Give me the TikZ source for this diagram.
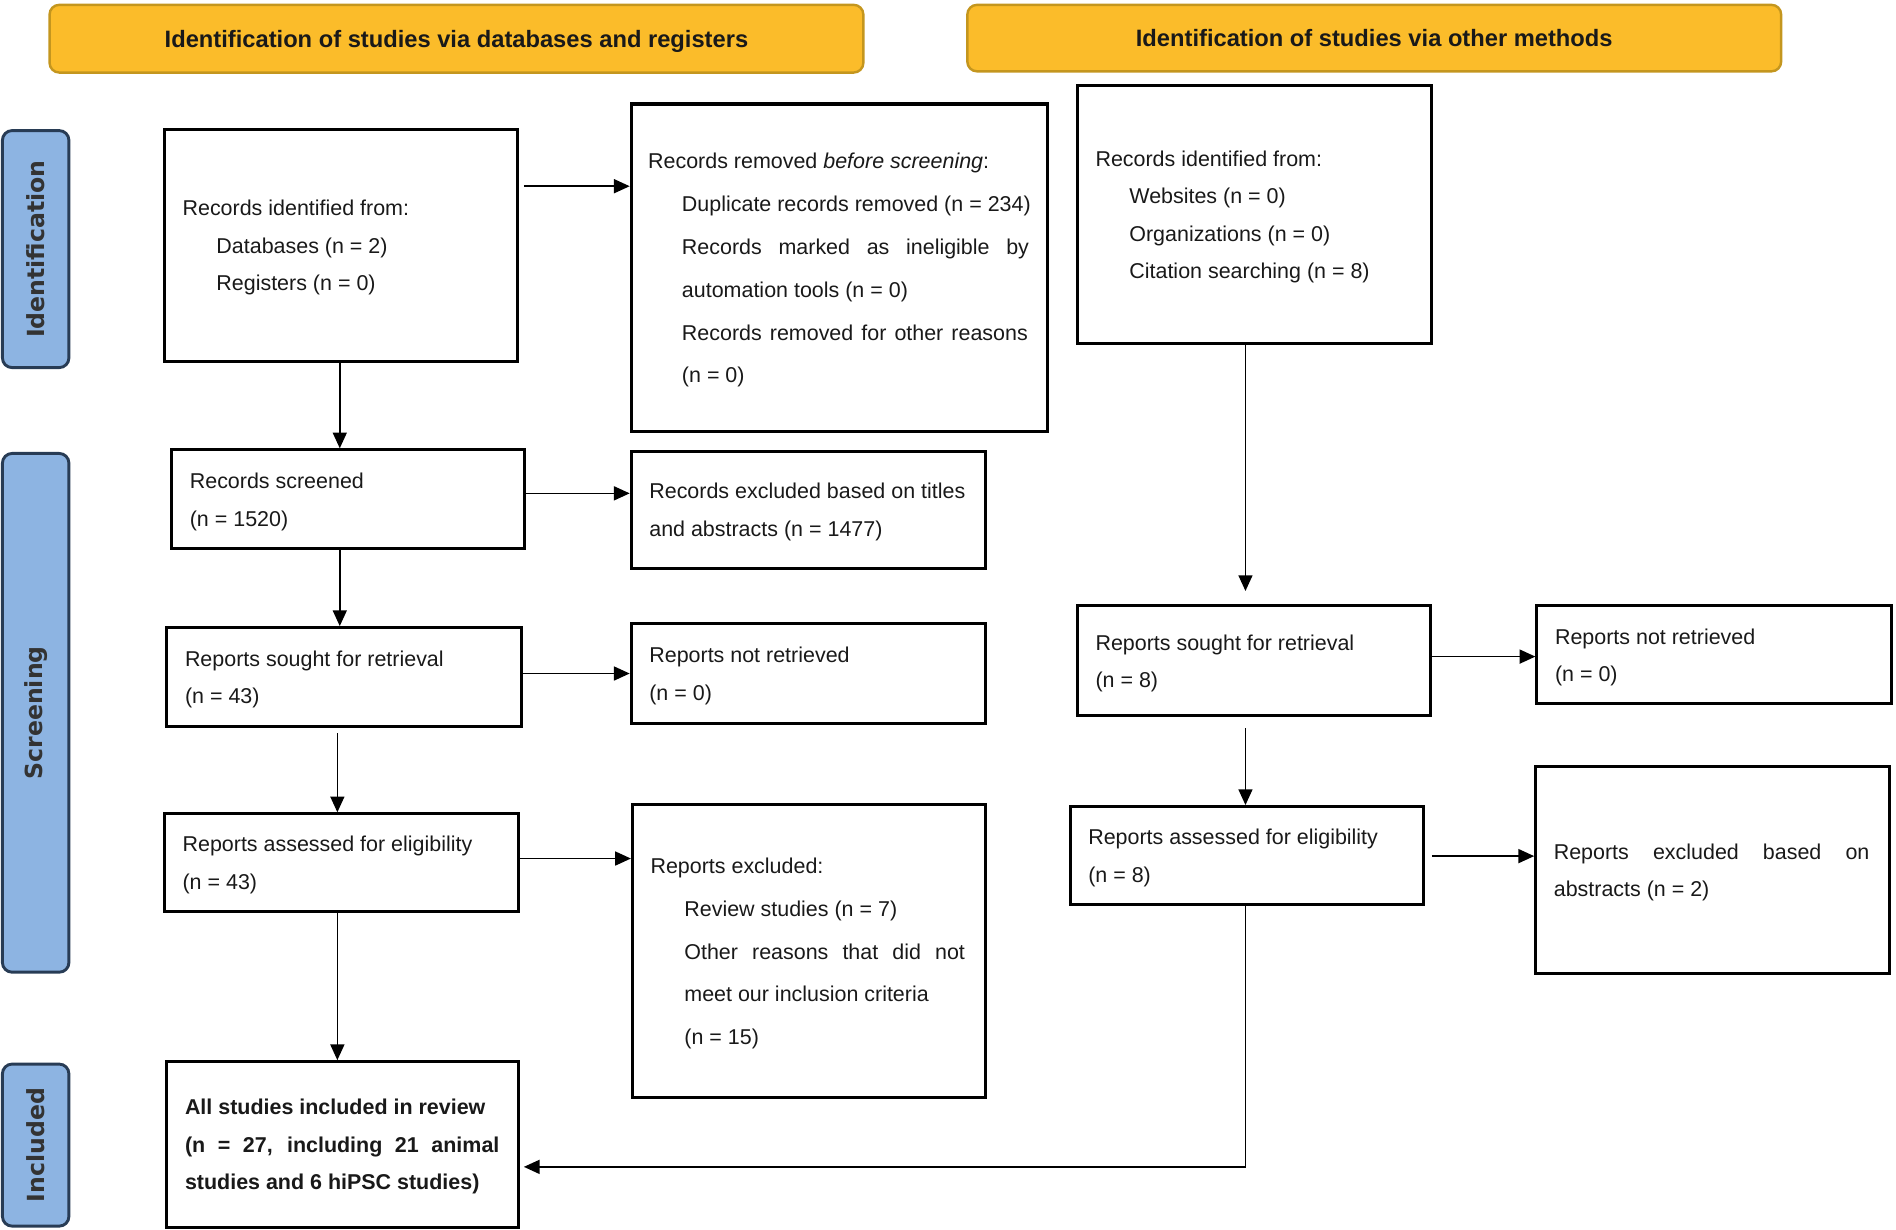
\documentclass[tikz,border=0pt]{standalone}
\usepackage{fontspec}
\setmainfont{Liberation Sans}
\newfontfamily\labfont{DejaVu Sans}
\usetikzlibrary{arrows.meta,calc}
\definecolor{bannerfill}{RGB}{251,188,42}
\definecolor{bannerline}{RGB}{196,150,30}
\definecolor{sidefill}{RGB}{141,180,226}
\definecolor{sideline}{RGB}{40,60,85}
\definecolor{txt}{RGB}{25,25,25}
\newcommand{\bodyfont}{\fontsize{8.87pt}{15.5pt}\selectfont}
\newcommand{\widefont}{\fontsize{8.87pt}{17.7pt}\selectfont}
\newcommand{\ind}{\hspace*{14pt}}
\newcommand{\nsp}{\spaceskip=0pt\relax\xspaceskip=0pt\relax}
\newcommand{\jl}[2]{\makebox[#1][s]{#2}}
\newcommand{\dn}{\par\kern-2pt}
\begin{document}
\begin{tikzpicture}[x=0.5pt,y=-0.5pt,
 box/.style={draw=black, line width=1.25pt, inner xsep=7.5pt, inner ysep=0pt, align=left, font=\bodyfont, text=txt},
 banner/.style={draw=bannerline, fill=bannerfill, line width=1pt, rounded corners=4pt, font=\fontsize{9.8pt}{12pt}\selectfont\bfseries, text=txt, inner sep=0pt, text depth=0pt},
 side/.style={draw=sideline, fill=sidefill, line width=1.2pt, rounded corners=4pt, inner sep=0pt, rotate=90, font=\labfont\fontsize{9.75pt}{12pt}\selectfont\bfseries, text=black!80},
 arr/.style={line width=0.6pt, -{Triangle[length=6.5pt,width=5.8pt]}}
]
\useasboundingbox (0,0) rectangle (1568,1016.4);

% banners
\node[banner, minimum width=336.5pt, minimum height=28pt] (H1) at (377.5,32) {Identification of studies via databases and registers};
\node[banner, minimum width=336.5pt, minimum height=27.5pt] (H2) at (1136.5,31.5) {Identification of studies via other methods};

% side labels
\node[side, minimum width=98pt, minimum height=27.5pt] (S1) at (29.5,206) {Identification};
\node[side, minimum width=214.5pt, minimum height=27.5pt] (S2) at (29.5,589.5) {Screening};
\node[side, minimum width=67pt, minimum height=27.5pt] (S3) at (29.5,947) {Included};

% left column
\node[box, minimum width=146pt, minimum height=96pt, text width=131pt] (B1) at (282,203)
 {\nsp Records identified from:\\ \ind Databases (n = 2)\\ \ind Registers (n = 0)\dn};
\node[box, minimum width=172pt, minimum height=135.5pt, text width=158pt, inner xsep=7pt, font=\widefont] (B2) at (694,221.5)
 {\nsp Records removed \textit{before screening}:\\
  \ind\mbox{Duplicate records removed (n = 234)}\\
  \ind\jl{143.5pt}{Records marked as ineligible by}\\
  \ind automation tools (n = 0)\\
  \ind\jl{143pt}{Records removed for other reasons}\\
  \ind (n = 0)\dn};
\node[box, minimum width=146pt, minimum height=41pt, text width=131pt] (B3) at (288,413)
 {\nsp Records screened\\(n = 1520)\dn};
\node[box, minimum width=146.5pt, minimum height=48.5pt, text width=131.5pt] (B4) at (668.5,421.5)
 {\nsp\mbox{Records excluded based on titles}\\and abstracts (n = 1477)\dn};
\node[box, minimum width=146.5pt, minimum height=41pt, text width=131.5pt] (B5) at (284.5,560)
 {\nsp Reports sought for retrieval\\(n = 43)\dn};
\node[box, minimum width=146.5pt, minimum height=41pt, text width=131.5pt] (B6) at (668.5,557)
 {\nsp Reports not retrieved\\(n = 0)\dn};
\node[box, minimum width=146.5pt, minimum height=40.5pt, text width=131.5pt] (B7) at (282.5,713.5)
 {\nsp\mbox{Reports assessed for eligibility}\\(n = 43)\dn};
\node[box, minimum width=146pt, minimum height=121.5pt, text width=131pt, font=\widefont] (B8) at (669,786.5)
 {\nsp Reports excluded:\\
  \ind Review studies (n = 7)\\
  \ind\jl{116pt}{Other reasons that did not}\\
  \ind\mbox{meet our inclusion criteria}\\
  \ind (n = 15)\dn};
\node[box, minimum width=145.5pt, minimum height=68.5pt, text width=130.5pt, font=\bodyfont\bfseries] (B9) at (283.5,946.5)
 {\nsp\mbox{All studies included in review}\\
  \jl{130pt}{(n = 27, including 21 animal}\\
  \mbox{studies and 6 hiPSC studies)}\dn};

% right column
\node[box, minimum width=146.5pt, minimum height=106.5pt, text width=131.5pt] (R1) at (1037.5,177.5)
 {\nsp Records identified from:\\ \ind Websites (n = 0)\\ \ind Organizations (n = 0)\\ \ind\mbox{Citation searching (n = 8)}\dn};
\node[box, minimum width=146pt, minimum height=45.5pt, text width=131pt] (R2) at (1037,546.5)
 {\nsp Reports sought for retrieval\\(n = 8)\dn};
\node[box, minimum width=146.5pt, minimum height=40.5pt, text width=131.5pt] (R3) at (1417.5,541.5)
 {\nsp Reports not retrieved\\(n = 0)\dn};
\node[box, minimum width=146pt, minimum height=40.5pt, text width=131pt] (R4) at (1031,707.5)
 {\nsp\mbox{Reports assessed for eligibility}\\(n = 8)\dn};
\node[box, minimum width=146.5pt, minimum height=85.5pt, text width=131.5pt] (R5) at (1416.5,719.5)
 {\nsp\jl{130.5pt}{Reports excluded based on}\\abstracts (n = 2)\dn};

% helper coordinates
\coordinate (y154) at (0,154);
\coordinate (y408) at (0,408);
\coordinate (y710) at (0,710);
\coordinate (y543) at (0,543);
\coordinate (y708) at (0,708);
\coordinate (y965) at (0,965);
\coordinate (xa) at (281,0);
\coordinate (xb) at (279,0);
\coordinate (xr) at (1030,0);

% connectors
\draw[arr] ($(B1.east |- y154)+(4,0)$) -- (B2.west |- y154);
\draw[arr] (xa |- B1.south) -- (xa |- B3.north);
\draw[arr] (B3.east |- y408) -- (B4.west |- y408);
\draw[arr] (xa |- B3.south) -- (xa |- B5.north);
\draw[arr] (B5.east |- B6.west) -- (B6.west);
\draw[arr] ($(xb |- B5.south)+(0,4)$) -- (xb |- B7.north);
\draw[arr] (B7.east |- y710) -- (B8.west |- y710);
\draw[arr] (xb |- B7.south) -- (xb |- B9.north);
\draw[arr] (xr |- R1.south) -- ($(xr |- R2.north)+(0,-11)$);
\draw[arr] (R2.east |- y543) -- (R3.west |- y543);
\draw[arr] ($(xr |- R2.south)+(0,9)$) -- (xr |- R4.north);
\draw[arr] ($(R4.east |- y708)+(6,0)$) -- (R5.west |- y708);
\draw[arr] (xr |- R4.south) |- ($(B9.east |- y965)+(3,0)$);
\end{tikzpicture}
\end{document}
